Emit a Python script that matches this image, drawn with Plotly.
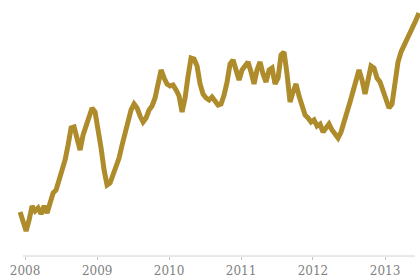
import pandas as pd
import plotly.graph_objects as go

# Series values (index units), roughly every two weeks
values = [
    22, 17, 12.5, 18, 25, 22.5, 24, 21, 25, 21.5, 26.5, 31.5, 33, 38, 42, 48, 55.5, 64, 64.5, 58,
    53, 60.5, 65.5, 70, 74, 72, 64, 54, 43, 35.5, 36.5, 41, 45, 49, 55.5, 62, 69, 73, 76, 74,
    70, 67, 69, 73, 75, 79, 86, 93, 89, 86, 85, 85.5, 83, 80, 72, 79, 90, 99, 98.5, 95,
    86, 81, 79, 78, 79.5, 77.5, 75.5, 76, 80.5, 87, 96, 98, 92, 88, 93, 95.5, 97, 92, 86, 93,
    97, 91, 87, 93, 94, 86, 89, 100.5, 102, 91, 77, 82, 86, 80, 74, 70.5, 69, 67, 68, 65,
    66, 62, 64, 66, 63, 61, 59, 62, 68, 72, 77, 82, 88, 93, 88, 81, 88, 95, 94, 89,
    87, 83, 79, 74, 76, 88, 97, 102, 105, 108, 111, 115, 118, 121.5,
]
start_date = "2007-12-07"
end_date = "2013-06-22"
dates = pd.date_range(start=start_date, end=end_date, periods=len(values))

tick_years = [2008, 2009, 2010, 2011, 2012, 2013]
tick_dates = [f"{y}-01-01" for y in tick_years]
tick_labels = [str(y) for y in tick_years]

fig = go.Figure()
fig.add_trace(go.Scatter(
    x=dates, y=values, mode="lines",
    line=dict(color="#AE8C2C", width=5),
    hoverinfo="skip", showlegend=False,
))

fig.add_shape(type="line", xref="paper", yref="paper",
              x0=23 / 420, x1=415 / 420, y0=0, y1=0,
              line=dict(color="#d2d2d2", width=1))

fig.update_layout(
    width=420, height=278,
    margin=dict(l=0, r=0, t=0, b=22),
    paper_bgcolor="white", plot_bgcolor="white",
    xaxis=dict(
        range=["2007-08-27", "2013-06-27"],
        tickmode="array", tickvals=tick_dates, ticktext=tick_labels,
        ticks="outside", ticklen=3, tickcolor="#c4c4c4", tickwidth=1,
        ticklabelstandoff=1,
        showgrid=False, zeroline=False, showline=False, automargin=False,
        tickfont=dict(family="DejaVu Serif", size=12, color="#808080"),
    ),
    yaxis=dict(range=[0, 128], visible=False, showgrid=False, zeroline=False),
)

fig.write_html("out.html", config={"displayModeBar": False},
               post_script="document.body.style.margin='0';")
